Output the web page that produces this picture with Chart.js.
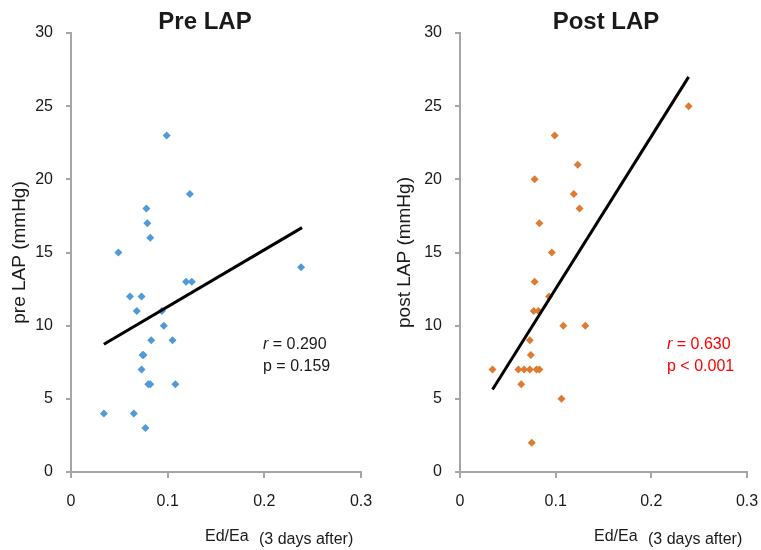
<!DOCTYPE html>
<html>
<head>
<meta charset="utf-8">
<script src="https://cdn.jsdelivr.net/npm/chart.js@4.4.0/dist/chart.umd.min.js"></script>
<style>
    body { margin: 0; background: #fff; }
    #wrap { position: relative; width: 761px; height: 550px; }
    canvas { position: absolute; top: 0; }
</style>
</head>
<body>
<div id="wrap">
    <canvas id="preChart" width="380" height="550" style="left:0"></canvas>
    <canvas id="postChart" width="381" height="550" style="left:380px"></canvas>
</div>
<script>
// values
const preEdEa = [0.099, 0.123, 0.078, 0.079, 0.082, 0.049, 0.238, 0.119, 0.125, 0.061, 0.073, 0.068, 0.094,
    0.096, 0.083, 0.105, 0.074, 0.075, 0.073, 0.080, 0.082, 0.108, 0.034, 0.065, 0.077];
const preLAP = [23, 19, 18, 17, 16, 15, 14, 13, 13, 12, 12, 11, 11, 10, 9, 9, 8, 8, 7, 6, 6, 6, 4, 4, 3];

const postEdEa = [0.239, 0.099, 0.123, 0.078, 0.119, 0.125, 0.083, 0.096, 0.078, 0.093, 0.077, 0.082, 0.108,
    0.131, 0.073, 0.074, 0.034, 0.061, 0.067, 0.073, 0.080, 0.083, 0.064, 0.106, 0.075];
const postLAP = [25, 23, 21, 20, 19, 18, 17, 15, 13, 12, 11, 11, 10, 10, 9, 8, 7, 7, 7, 7, 7, 7, 6, 5, 2];

// regression line end points
const preFitX = [0.034, 0.239];
const preFitY = [8.73, 16.7];
const postFitX = [0.034, 0.239];
const postFitY = [5.64, 27.0];

const xTicks = [0, 0.1, 0.2, 0.3];
const yTicks = [0, 5, 10, 15, 20, 25, 30];

const FONT = "'Liberation Sans', Arial, sans-serif";
const TEXT = '#1a1a1a';
const AXIS = '#a6a6a6';

function toPoints(xs, ys) {
    return xs.map(function(x, i) { return { x: x, y: ys[i] }; });
}

// titles, stats and the split x-axis caption drawn on top of the chart
function textPlugin(opts) {
    return {
        id: 'texts',
        afterDraw: function(chart) {
            var ctx = chart.ctx;
            ctx.save();
            ctx.fillStyle = TEXT;
            ctx.textBaseline = 'middle';

            ctx.font = 'bold 24px ' + FONT;
            ctx.textAlign = 'center';
            ctx.fillText(opts.title, opts.titleX, 22);

            ctx.textAlign = 'left';
            ctx.font = '16px ' + FONT;
            ctx.fillText('Ed/Ea', opts.capX, 537);
            ctx.fillText('(3 days after)', opts.capX + 54, 540);

            ctx.fillStyle = opts.statColor;
            ctx.font = 'italic 16px ' + FONT;
            ctx.fillText('r', opts.statX, 345);
            var rw = ctx.measureText('r').width;
            ctx.font = '16px ' + FONT;
            ctx.fillText(' = ' + opts.r, opts.statX + rw, 345);
            ctx.fillText(opts.p, opts.statX, 367);
            ctx.restore();
        }
    };
}

function makeChart(id, xs, ys, fitX, fitY, color, yTitle, axisW, padRight, titlePad, opts) {
    var ctx = document.getElementById(id).getContext('2d');
    return new Chart(ctx, {
        type: 'scatter',
        data: {
            datasets: [{
                data: toPoints(fitX, fitY),
                showLine: true,
                borderColor: '#000',
                borderWidth: 3,
                pointRadius: 0
            }, {
                data: toPoints(xs, ys),
                pointStyle: 'rectRot',
                pointRadius: 4,
                backgroundColor: color,
                borderColor: color,
                borderWidth: 0
            }]
        },
        options: {
            responsive: false,
            animation: false,
            layout: { padding: { top: 33, right: padRight, left: 0, bottom: 0 } },
            plugins: { legend: { display: false }, tooltip: { enabled: false } },
            scales: {
                x: {
                    min: 0,
                    max: 0.3,
                    afterBuildTicks: function(s) { s.ticks = xTicks.map(function(v) { return { value: v }; }); },
                    afterFit: function(s) {
                        s.height = 78;
                        s.paddingLeft = 0;
                        s.paddingRight = 0;
                    },
                    grid: { drawOnChartArea: false, tickLength: 6, color: AXIS, lineWidth: 2 },
                    border: { color: AXIS, width: 2 },
                    ticks: {
                        color: TEXT,
                        font: { family: FONT, size: 16 },
                        padding: 14,
                        maxRotation: 0,
                        callback: function(v) { return String(v); }
                    }
                },
                y: {
                    min: 0,
                    max: 30,
                    afterBuildTicks: function(s) { s.ticks = yTicks.map(function(v) { return { value: v }; }); },
                    afterFit: function(s) { s.width = axisW; },
                    grid: { drawOnChartArea: false, tickLength: 5, color: AXIS, lineWidth: 2 },
                    border: { color: AXIS, width: 2 },
                    ticks: {
                        color: TEXT,
                        font: { family: FONT, size: 16 },
                        padding: 13
                    },
                    title: {
                        display: true,
                        text: yTitle,
                        color: TEXT,
                        font: { family: FONT, size: 19 },
                        padding: { top: titlePad, bottom: 0 }
                    }
                }
            }
        },
        plugins: [textPlugin(opts)]
    });
}

makeChart('preChart', preEdEa, preLAP, preFitX, preFitY, '#4f9ad8', 'pre LAP (mmHg)', 71, 19, 8, {
    title: 'Pre LAP', titleX: 205, capX: 205,
    statX: 263, r: '0.290', p: 'p = 0.159', statColor: TEXT
});

makeChart('postChart', postEdEa, postLAP, postFitX, postFitY, '#e07a30', 'post LAP (mmHg)', 80, 14, 13, {
    title: 'Post LAP', titleX: 226, capX: 214,
    statX: 287, r: '0.630', p: 'p < 0.001', statColor: '#ff0000'
});
</script>
</body>
</html>
